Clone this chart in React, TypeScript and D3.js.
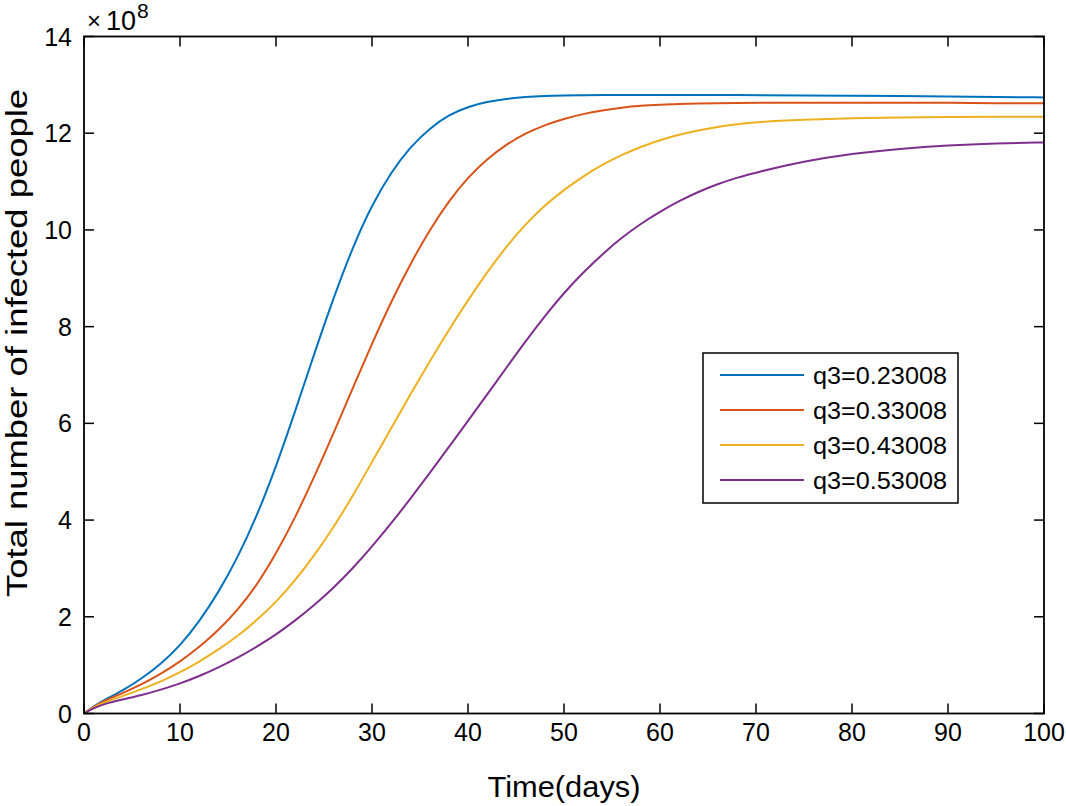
import React from "react";
import * as d3 from "d3";

const days = [0, 1, 2, 4, 6, 8, 10, 12, 14, 16, 18, 20, 22, 24, 26, 28, 30, 32, 34, 36, 38, 40, 42, 44, 46, 48, 50, 52, 54, 56, 58, 60, 62, 64, 66, 68, 70, 75, 80, 85, 90, 95, 100];

const q1Values = [0, 0.15, 0.27, 0.47, 0.72, 1.02, 1.4, 1.9, 2.5, 3.22, 4.08, 5.1, 6.25, 7.45, 8.6, 9.65, 10.52, 11.2, 11.72, 12.1, 12.38, 12.55, 12.65, 12.71, 12.75, 12.77, 12.78, 12.785, 12.79, 12.79, 12.79, 12.79, 12.79, 12.79, 12.79, 12.79, 12.785, 12.78, 12.775, 12.77, 12.76, 12.75, 12.74];
const q2Values = [0, 0.14, 0.25, 0.42, 0.6, 0.82, 1.07, 1.37, 1.72, 2.14, 2.65, 3.3, 4.05, 4.9, 5.8, 6.73, 7.65, 8.52, 9.3, 10.0, 10.6, 11.09, 11.47, 11.77, 12.0, 12.17, 12.3, 12.4, 12.47, 12.53, 12.57, 12.59, 12.605, 12.615, 12.62, 12.625, 12.63, 12.63, 12.63, 12.63, 12.63, 12.62, 12.62];
const q3Values = [0, 0.13, 0.22, 0.36, 0.5, 0.66, 0.85, 1.07, 1.32, 1.6, 1.93, 2.3, 2.75, 3.27, 3.85, 4.5, 5.2, 5.9, 6.6, 7.28, 7.93, 8.55, 9.13, 9.66, 10.12, 10.51, 10.83, 11.11, 11.35, 11.55, 11.72, 11.86, 11.97, 12.06, 12.13, 12.185, 12.23, 12.28, 12.31, 12.325, 12.335, 12.34, 12.34];
const q4Values = [0, 0.11, 0.19, 0.29, 0.38, 0.49, 0.62, 0.77, 0.95, 1.15, 1.38, 1.63, 1.92, 2.24, 2.6, 3.0, 3.45, 3.93, 4.44, 4.97, 5.51, 6.05, 6.6, 7.15, 7.7, 8.22, 8.7, 9.12, 9.5, 9.84, 10.13, 10.38, 10.6, 10.79, 10.95, 11.08, 11.19, 11.42, 11.58, 11.68, 11.75, 11.79, 11.81];

const seriesLabels = ["q3=0.23008", "q3=0.33008", "q3=0.43008", "q3=0.53008"];
const seriesColors = ["#0072BD", "#D95319", "#EDB120", "#7E2F8E"];
const allSeries = [q1Values, q2Values, q3Values, q4Values];

const xTicks = [0, 10, 20, 30, 40, 50, 60, 70, 80, 90, 100];
const yTicks = [0, 2, 4, 6, 8, 10, 12, 14];

const FONT = "'Liberation Sans', Arial, Helvetica, sans-serif";

export default function App() {
  const W = 1066, H = 806;
  const left = 84, right = 1044, top = 36.5, bottom = 713.5;
  const x = d3.scaleLinear().domain([0, 100]).range([left, right]);
  const y = d3.scaleLinear().domain([0, 14]).range([bottom, top]);
  const line = d3
    .line<[number, number]>()
    .x((d) => x(d[0]))
    .y((d) => y(d[1]))
    .curve(d3.curveBasis);
  const tickLen = 10;

  const legX = 703, legY = 353, legW = 255, legH = 150;

  return (
    <svg width={W} height={H} style={{ position: "absolute", left: 0, top: 0, background: "#fff" }}>
      <rect x={0} y={0} width={W} height={H} fill="#fff" />
      <defs>
        <clipPath id="plotclip">
          <rect x={left} y={top} width={right - left} height={bottom - top} />
        </clipPath>
      </defs>
      <g clipPath="url(#plotclip)">
        {allSeries.map((vals, i) => (
          <path
            key={i}
            d={line(days.map((d, j) => [d, vals[j]] as [number, number])) || ""}
            fill="none"
            stroke={seriesColors[i]}
            strokeWidth={2}
          />
        ))}
      </g>
      <g stroke="#000" strokeWidth={1.5}>
        {xTicks.map((t) => (
          <g key={"xt" + t}>
            <line x1={x(t)} x2={x(t)} y1={bottom} y2={bottom - tickLen} />
            <line x1={x(t)} x2={x(t)} y1={top} y2={top + tickLen} />
          </g>
        ))}
        {yTicks.map((t) => (
          <g key={"yt" + t}>
            <line x1={left} x2={left + tickLen} y1={y(t)} y2={y(t)} />
            <line x1={right} x2={right - tickLen} y1={y(t)} y2={y(t)} />
          </g>
        ))}
      </g>
      <rect x={left} y={top} width={right - left} height={bottom - top} fill="none" stroke="#000" strokeWidth={1.8} />
      <g fontFamily={FONT} fontSize={25} fill="#000">
        {xTicks.map((t) => (
          <text key={"xl" + t} x={x(t)} y={bottom + 27} textAnchor="middle">
            {t}
          </text>
        ))}
        {yTicks.map((t) => (
          <text key={"yl" + t} x={left - 12} y={y(t) + 9} textAnchor="end">
            {t}
          </text>
        ))}
      </g>
      <g fontFamily={FONT} fill="#000">
        <text x={87} y={29} fontSize={24}>×</text>
        <text x={106} y={30} fontSize={27}>10</text>
        <text x={137} y={18} fontSize={21}>8</text>
      </g>
      <text
        x={(left + right) / 2}
        y={797}
        textAnchor="middle"
        fontFamily={FONT}
        fontSize={29}
        fill="#000"
        textLength={153}
        lengthAdjust="spacingAndGlyphs"
      >
        Time(days)
      </text>
      <text
        transform={`translate(27, 343) rotate(-90)`}
        textAnchor="middle"
        fontFamily={FONT}
        fontSize={29}
        fill="#000"
        textLength={508}
        lengthAdjust="spacingAndGlyphs"
      >
        Total number of infected people
      </text>
      <rect x={legX} y={legY} width={legW} height={legH} fill="#fff" stroke="#000" strokeWidth={1.5} />
      {seriesLabels.map((lab, i) => {
        const ly = legY + 22 + i * 35;
        return (
          <g key={lab}>
            <line x1={720} x2={804} y1={ly} y2={ly} stroke={seriesColors[i]} strokeWidth={2} />
            <text
              x={813}
              y={ly + 9}
              fontFamily={FONT}
              fontSize={24}
              fill="#000"
              textLength={134}
              lengthAdjust="spacingAndGlyphs"
            >
              {lab}
            </text>
          </g>
        );
      })}
    </svg>
  );
}
